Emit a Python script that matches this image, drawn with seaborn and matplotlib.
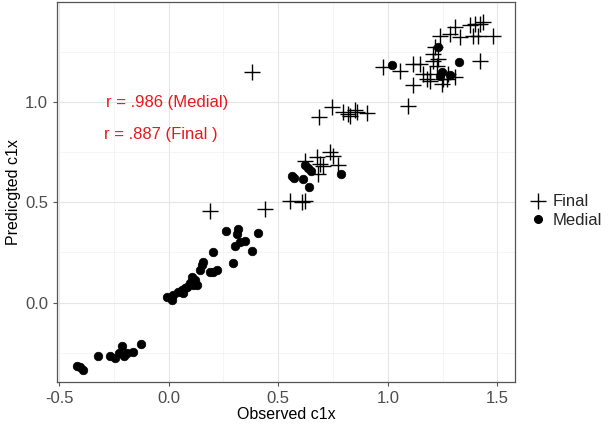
import pandas as pd
import numpy as np
import matplotlib.pyplot as plt
import seaborn as sns
from matplotlib.ticker import MultipleLocator
from matplotlib.lines import Line2D

# valeurs
medial_obs = [-0.406, -0.393, -0.42, -0.324, -0.247, -0.228, -0.215, -0.192, -0.164, -0.128, -0.205, -0.27,
              -0.009, 0.014, 0.018, 0.059, 0.064, 0.082, 0.096, 0.105, 0.119, 0.128, 0.142, 0.155, 0.151,
              0.187, 0.201, 0.219, 0.201, 0.26, 0.292, 0.301, 0.315, 0.311, 0.324, 0.347, 0.379, 0.406,
              0.073, 0.041, 0.11,
              0.562, 0.571, 0.612, 0.621, 0.635, 0.648, 0.639, 0.785,
              1.018, 1.324, 1.283, 1.237, 1.228, 1.247]
medial_pred = [-0.32, -0.335, -0.315, -0.265, -0.275, -0.25, -0.215, -0.25, -0.245, -0.205, -0.265, -0.265,
               0.03, 0.015, 0.04, 0.065, 0.05, 0.08, 0.10, 0.13, 0.115, 0.09, 0.165, 0.205, 0.19,
               0.155, 0.155, 0.165, 0.25, 0.355, 0.20, 0.28, 0.365, 0.34, 0.30, 0.305, 0.255, 0.345,
               0.075, 0.055, 0.09,
               0.63, 0.62, 0.615, 0.685, 0.67, 0.655, 0.575, 0.64,
               1.185, 1.20, 1.135, 1.13, 1.275, 1.15]

final_obs = [0.977, 1.055, 1.114, 1.091, 1.114, 1.146, 1.178, 1.16, 1.192, 1.205, 1.224, 1.228, 1.247,
             1.269, 1.251, 1.306, 1.215, 1.237, 1.283, 1.306, 1.329, 1.374, 1.397, 1.42, 1.434, 1.388,
             1.411, 1.479, 1.42, 1.205, 1.192, 1.274,
             0.379,
             0.685, 0.744, 0.795, 0.817, 0.826, 0.849, 0.858, 0.904,
             0.676, 0.735, 0.749, 0.621, 0.689, 0.703, 0.772, 0.68, 0.553, 0.607, 0.621,
             0.187, 0.438]
final_pred = [1.175, 1.155, 1.085, 0.98, 1.19, 1.19, 1.115, 1.14, 1.14, 1.205, 1.18, 1.215, 1.09,
              1.115, 1.115, 1.125, 1.275, 1.33, 1.34, 1.375, 1.325, 1.385, 1.39, 1.39, 1.40, 1.33,
              1.33, 1.33, 1.205, 1.24, 1.105, 1.14,
              1.15,
              0.925, 0.975, 0.95, 0.94, 0.93, 0.96, 0.95, 0.945,
              0.725, 0.75, 0.73, 0.705, 0.69, 0.68, 0.685, 0.64, 0.505, 0.50, 0.505,
              0.455, 0.465]

r_labels = ['r = .986 (Medial)', 'r = .887 (Final )']

df_med = pd.DataFrame({'Observed': medial_obs, 'Predicted': medial_pred})
df_fin = pd.DataFrame({'Observed': final_obs, 'Predicted': final_pred})

sns.set_theme(style="white")
plt.rcParams['font.family'] = ['Liberation Sans', 'DejaVu Sans']
plt.rcParams['axes.unicode_minus'] = False

fig = plt.figure(figsize=(6.12, 4.28), dpi=100)
ax = fig.add_axes([0.093, 0.1075, 0.7485, 0.8875])

sns.scatterplot(data=df_fin, x='Observed', y='Predicted', marker='+', color='black',
                s=130, linewidth=1.0, ax=ax, zorder=3)
sns.scatterplot(data=df_med, x='Observed', y='Predicted', marker='o', color='black',
                s=38, edgecolor='black', linewidth=0.5, ax=ax, zorder=3)

ax.set_xlim(-0.51, 1.58)
ax.set_ylim(-0.395, 1.497)
ax.xaxis.set_major_locator(MultipleLocator(0.5))
ax.yaxis.set_major_locator(MultipleLocator(0.5))
ax.xaxis.set_minor_locator(MultipleLocator(0.25))
ax.yaxis.set_minor_locator(MultipleLocator(0.25))
ax.grid(which='major', color='#e6e6e6', linewidth=0.8)
ax.grid(which='minor', color='#f2f2f2', linewidth=0.5)
ax.set_axisbelow(True)
for s in ax.spines.values():
    s.set_color('#555555')
    s.set_linewidth(0.9)
ax.tick_params(axis='both', which='major', length=3, color='#555555', width=0.8,
               labelsize=12, labelcolor='#4d4d4d', bottom=True, left=True)
ax.tick_params(axis='both', which='minor', length=0)
ax.set_xlabel('Observed c1x', fontsize=11.5, color='black', labelpad=1)
ax.set_ylabel('Predicgted c1x', fontsize=11.5, color='black', labelpad=3)

ax.text(-0.005, 0.995, r_labels[0], color='#e8191c', fontsize=12, ha='center', va='center')
ax.text(-0.035, 0.84, r_labels[1], color='#e8191c', fontsize=12, ha='center', va='center')

handles = [Line2D([], [], marker='+', color='black', linestyle='none', markersize=11, markeredgewidth=1.0),
           Line2D([], [], marker='o', color='black', linestyle='none', markersize=5.5)]
fig.legend(handles, ['Final', 'Medial'], loc='center left', bbox_to_anchor=(0.866, 0.507),
           frameon=False, fontsize=12, handletextpad=0.35, labelspacing=0.2, handlelength=1.0,
           borderaxespad=0, borderpad=0)

fig.savefig('out.png', dpi=100)
